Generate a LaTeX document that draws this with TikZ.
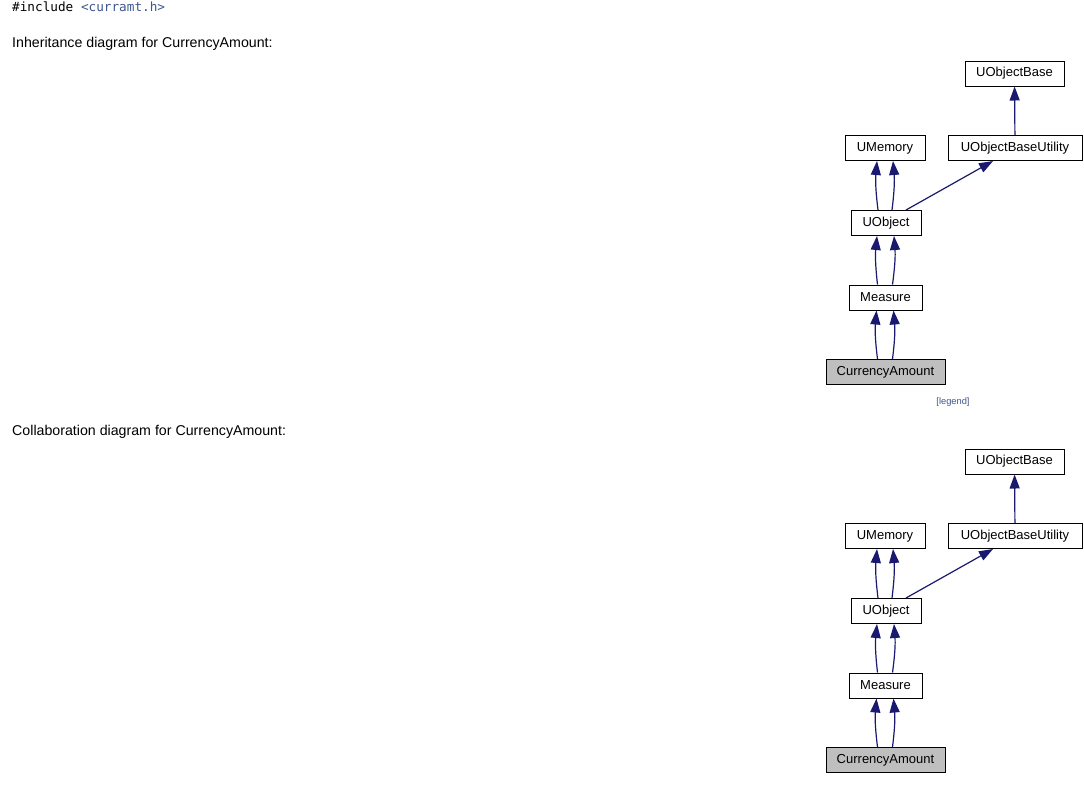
\documentclass[tikz,border=0pt]{standalone}
\usepackage{fontspec}
\setmainfont{Liberation Sans}
\setmonofont{DejaVu Sans Mono}
\usepackage{xcolor}
\usetikzlibrary{arrows.meta,positioning}

\definecolor{edgeblue}{HTML}{191970}
\definecolor{linkblue}{HTML}{3D578C}
\definecolor{boxgray}{HTML}{BFBFBF}

\tikzset{
  cls/.style={draw=black, line width=1pt, fill=white, minimum height=25pt,
    inner sep=0pt, font=\fontsize{13}{15}\selectfont},
  inh/.style={draw=edgeblue, line width=1.2pt,
    -{Triangle[length=14pt,width=10pt,fill=edgeblue]}},
  heading/.style={anchor=west, inner sep=0pt, font=\fontsize{14.2}{16}\selectfont},
}

\begin{document}
\begin{tikzpicture}[x=1pt,y=1pt]
    \useasboundingbox[fill=white] (0,0) rectangle (1084,-785);

    % Header texts
    \node[anchor=west, inner sep=0pt, font=\fontsize{12.7}{15}\ttfamily] (incl) at (12,-7)
        {\#include \textcolor{linkblue}{<curramt.h>}};
    \node[heading] (inhtitle) at (12,-44) {Inheritance diagram for CurrencyAmount:};
    \node[heading] (coltitle) at (12,-432) {Collaboration diagram for CurrencyAmount:};

    % Inheritance diagram
    \node[cls, minimum width=99pt] (ibase) at (1014.5,-73.5) {UObjectBase};
    \node[cls, minimum width=80pt] (imem) at (885,-148) {UMemory};
    \node[cls, minimum width=134pt] (iutil) at (1015,-148) {UObjectBaseUtility};
    \node[cls, minimum width=70pt] (iobj) at (886,-223) {UObject};
    \node[cls, minimum width=73pt] (imeas) at (885.5,-297.5) {Measure};
    \node[cls, minimum width=119pt, fill=boxgray] (icurr) at (885.5,-372) {CurrencyAmount};
    \node[inner sep=0pt, text=linkblue, font=\fontsize{9.3}{11}\selectfont] (legend) at (953,-402) {[legend]};

    \draw[inh] (iutil) -- (ibase);
    \draw[inh] ([xshift=20pt]iobj.north) -- ([xshift=-22pt]iutil.south);
    \draw[inh] ([xshift=-8pt]iobj.north) to[bend left=6] ([xshift=-8pt]imem.south);
    \draw[inh] ([xshift=6pt]iobj.north) to[bend right=6] ([xshift=8pt]imem.south);
    \draw[inh] ([xshift=-8pt]imeas.north) to[bend left=6] ([xshift=-9pt]iobj.south);
    \draw[inh] ([xshift=7pt]imeas.north) to[bend right=6] ([xshift=8pt]iobj.south);
    \draw[inh] ([xshift=-8pt]icurr.north) to[bend left=6] ([xshift=-9pt]imeas.south);
    \draw[inh] ([xshift=7pt]icurr.north) to[bend right=6] ([xshift=8pt]imeas.south);

    % Collaboration diagram
    \begin{scope}[yshift=-388pt]
    \node[cls, minimum width=99pt] (cbase) at (1014.5,-73.5) {UObjectBase};
    \node[cls, minimum width=80pt] (cmem) at (885,-148) {UMemory};
    \node[cls, minimum width=134pt] (cutil) at (1015,-148) {UObjectBaseUtility};
    \node[cls, minimum width=70pt] (cobj) at (886,-223) {UObject};
    \node[cls, minimum width=73pt] (cmeas) at (885.5,-297.5) {Measure};
    \node[cls, minimum width=119pt, fill=boxgray] (ccurr) at (885.5,-372) {CurrencyAmount};

    \draw[inh] (cutil) -- (cbase);
    \draw[inh] ([xshift=20pt]cobj.north) -- ([xshift=-22pt]cutil.south);
    \draw[inh] ([xshift=-8pt]cobj.north) to[bend left=6] ([xshift=-8pt]cmem.south);
    \draw[inh] ([xshift=6pt]cobj.north) to[bend right=6] ([xshift=8pt]cmem.south);
    \draw[inh] ([xshift=-8pt]cmeas.north) to[bend left=6] ([xshift=-9pt]cobj.south);
    \draw[inh] ([xshift=7pt]cmeas.north) to[bend right=6] ([xshift=8pt]cobj.south);
    \draw[inh] ([xshift=-8pt]ccurr.north) to[bend left=6] ([xshift=-9pt]cmeas.south);
    \draw[inh] ([xshift=7pt]ccurr.north) to[bend right=6] ([xshift=8pt]cmeas.south);
    \end{scope}
\end{tikzpicture}
\end{document}
